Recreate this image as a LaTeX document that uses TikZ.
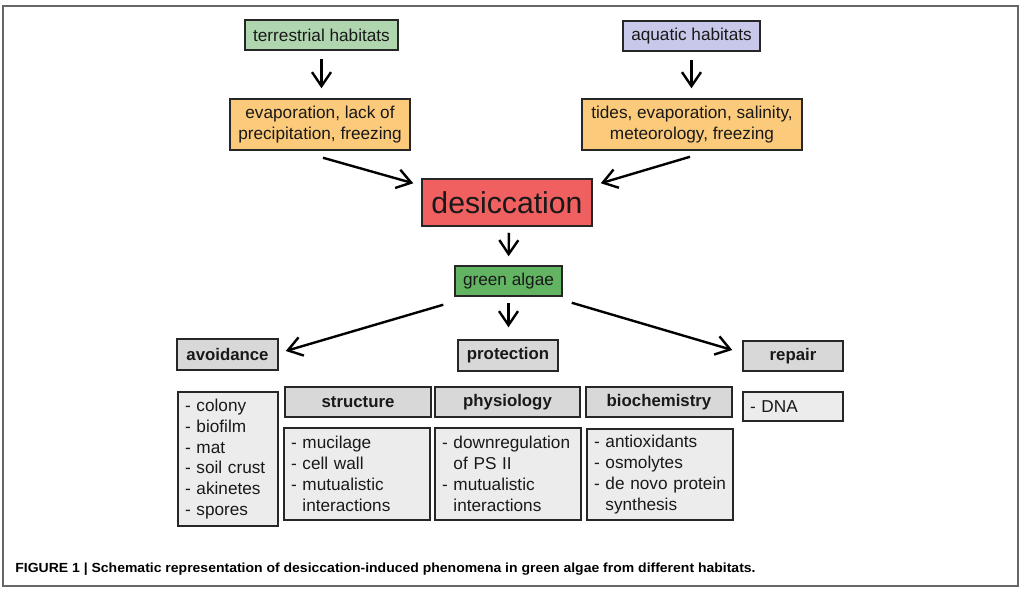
\documentclass[tikz,border=0pt]{standalone}
\usepackage{fontspec}
\setmainfont{Liberation Sans}
\usetikzlibrary{arrows.meta}
\definecolor{terr}{RGB}{176,214,176}
\definecolor{aqua}{RGB}{200,200,235}
\definecolor{orng}{RGB}{251,202,122}
\definecolor{desred}{RGB}{240,96,96}
\definecolor{algg}{RGB}{98,180,98}
\definecolor{hdr}{RGB}{216,216,216}
\definecolor{lst}{RGB}{236,236,236}
\definecolor{txt}{RGB}{25,25,25}
\newcommand\nohyphs{\hyphenpenalty=10000\relax\exhyphenpenalty=10000\relax}
\tikzset{
  box/.style={draw=black!85, line width=0.75pt, inner sep=0pt, align=center, text=txt,
    font=\fontsize{8.6}{10.4}\selectfont},
  hdrbox/.style={box, fill=hdr, font=\fontsize{8.4}{10}\selectfont\bfseries},
  lstbox/.style={box, fill=lst, align=left, inner xsep=3.5pt,
    font=\fontsize{8.6}{10.4}\selectfont\nohyphs},
  arr/.style={line width=1.2pt, -{Straight Barb[length=7pt,width=9.5pt,line width=1.2pt]}}
}
\begin{document}
\begin{tikzpicture}[x=0.5pt,y=-0.5pt]
\useasboundingbox (0,0) rectangle (1024,591);
\draw[black!60, line width=1pt] (3,6) rectangle (1018,586);

\node[box, fill=terr, minimum width=76.5pt, minimum height=15pt] (terr) at (321.5,35) {terrestrial habitats};
\node[box, fill=aqua, minimum width=68.5pt, minimum height=15pt] (aqua) at (691.5,36) {aquatic habitats};
\node[box, fill=orng, minimum width=90pt, minimum height=25.5pt] (evap) at (320,124.5) {evaporation, lack of\\precipitation, freezing};
\node[box, fill=orng, minimum width=110pt, minimum height=25.5pt] (tides) at (692,124.5) {tides, evaporation, salinity,\\meteorology, freezing};
\node[box, fill=desred, minimum width=85pt, minimum height=23.5pt, font=\fontsize{15.1}{18}\selectfont] (desic) at (507,202.5) {desiccation};
\node[box, fill=algg, minimum width=53.5pt, minimum height=15pt] (algae) at (508.5,281) {green algae};

\node[hdrbox, minimum width=50.5pt, minimum height=15.5pt] (avoid) at (227.5,354.5) {avoidance};
\node[hdrbox, minimum width=50pt, minimum height=15.5pt] (prot) at (508,355.5) {protection};
\node[hdrbox, minimum width=50pt, minimum height=15pt] (repair) at (793,356) {repair};

\node[hdrbox, minimum width=73pt, minimum height=15pt] (struct) at (358,402) {structure};
\node[hdrbox, minimum width=72.5pt, minimum height=15pt] (phys) at (507.5,402) {physiology};
\node[hdrbox, minimum width=73pt, minimum height=15pt] (bioch) at (659,402) {biochemistry};

\node[lstbox, text width=43pt, minimum height=14.5pt] (dna) at (793,406.5) {- DNA};
\node[lstbox, text width=43pt, minimum height=67pt] (avl) at (228,459) {- colony\\- biofilm\\- mat\\- soil crust\\- akinetes\\- spores};
\node[lstbox, text width=66pt, minimum height=46pt] (stl) at (357,474) {- mucilage\\- cell wall\\- mutualistic\\\phantom{- }interactions};
\node[lstbox, text width=66pt, minimum height=46pt] (phl) at (508,474) {- downregulation\\\phantom{- }of PS II\\- mutualistic\\\phantom{- }interactions};
\node[lstbox, text width=66pt, minimum height=45.5pt] (bil) at (660,474.5) {- antioxidants\\- osmolytes\\- de~novo~protein\\\phantom{- }synthesis};

\draw[arr, shorten <=4pt, shorten >=5pt] (terr.south) -- (terr.south |- evap.north);
\draw[arr, shorten <=4pt, shorten >=5pt] (aqua.south) -- (aqua.south |- tides.north);
\draw[arr] ([xshift=1.5pt,yshift=-3.5pt]evap.south) -- ([xshift=-4pt,yshift=-2.5pt]desic.north west);
\draw[arr] ([xshift=-1pt,yshift=-3pt]tides.south) -- ([xshift=4pt,yshift=-2.5pt]desic.north east);
\draw[arr, shorten <=3pt, shorten >=4.5pt] ([xshift=1pt]desic.south) -- (algae.north);
\draw[arr] ([xshift=-5.5pt,yshift=-4pt]algae.south west) -- ([xshift=3.5pt,yshift=1.75pt]avoid.east);
\draw[arr, shorten <=3pt, shorten >=6pt] (algae.south) -- (algae.south |- prot.north);
\draw[arr] ([xshift=4.5pt,yshift=-3pt]algae.south east) -- ([xshift=-5pt,yshift=3pt]repair.west);

\node[anchor=base west, inner sep=0pt, text=black, font=\fontsize{6.6}{7.5}\selectfont\bfseries] (cap) at (15,572)
  {\scalebox{1.06}[1]{FIGURE 1 | Schematic representation of desiccation-induced phenomena in green algae from different habitats.}};
\end{tikzpicture}
\end{document}
